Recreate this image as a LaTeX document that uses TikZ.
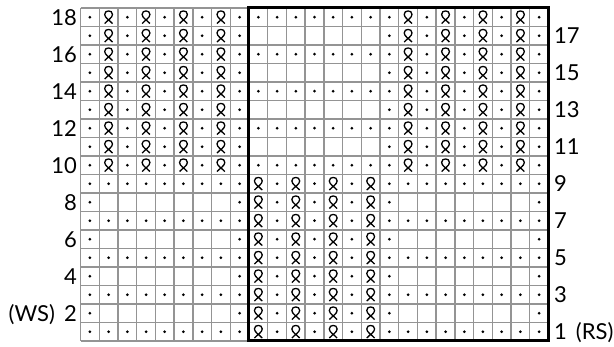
\documentclass[tikz,border=0pt]{standalone}
\usepackage{fontspec}
\setmainfont{Lato}[WordSpace=1.6]
\def\rowA{d,q,d,q,d,q,d,q,d,d,d,d,d,d,d,d,d,q,d,q,d,q,d,q,d}
\def\rowB{d,q,d,q,d,q,d,q,d,e,e,e,e,e,e,e,d,q,d,q,d,q,d,q,d}
\def\rowC{d,d,d,d,d,d,d,d,d,q,d,q,d,q,d,q,d,d,d,d,d,d,d,d,d}
\def\rowD{d,e,e,e,e,e,e,e,d,q,d,q,d,q,d,q,d,e,e,e,e,e,e,e,d}
\tikzset{
  pd/.pic={\fill (0,0) circle[radius=1.5pt];},
  pq/.pic={\draw[line width=1.3pt] (-3.9,6.3) .. controls (-1,3) and (3.9,0.5) .. (3.9,-2.8) .. controls (3.9,-5.3) and (2,-6.3) .. (0,-6.3) .. controls (-2,-6.3) and (-3.9,-5.3) .. (-3.9,-2.8) .. controls (-3.9,0.5) and (1,3) .. (3.9,6.3);},
  pe/.pic={},
  gridln/.style={line width=1.4pt, color=black!42},
  frameln/.style={line width=3pt, black},
  lbl/.style={inner sep=0pt, font=\fontsize{22}{26}\selectfont}
}
\begin{document}
\begin{tikzpicture}[x=1pt,y=-1pt]
\useasboundingbox (0,0) rectangle (614,347);
% grid
\foreach \c in {0,...,25} \draw[gridln] ({80.5+\c*18.72},8) -- ({80.5+\c*18.72},341);
\foreach \r in {0,...,18} \draw[gridln] (80.5,{8+\r*18.5}) -- (548.5,{8+\r*18.5});
% symbols
\foreach \r in {1,...,18}{
  \ifnum\r>9
    \ifodd\r \global\let\rowlist\rowB \else \global\let\rowlist\rowA \fi
  \else
    \ifodd\r \global\let\rowlist\rowC \else \global\let\rowlist\rowD \fi
  \fi
  \foreach \s [count=\c] in \rowlist {
    \pic at ({80.5+(\c-0.5)*18.72},{8+(18.5-\r)*18.5}) {p\s};
  }
}
% thick frame
\draw[frameln] (248.98,8) rectangle (548.5,341);
% labels
\foreach \r in {4,6,...,18}
  \node[lbl, anchor=base east] (l\r) at (77,{8+(18.5-\r)*18.5+7.9}) {\r};
\node[lbl, anchor=base east] (l2) at (77,{8+16.5*18.5+7.9}) {(WS) 2};
\foreach \r in {3,5,...,17}
  \node[lbl, anchor=base west] (l\r) at (554,{8+(18.5-\r)*18.5+7.9}) {\r};
\node[lbl, anchor=base west] (l1) at (554,{8+17.5*18.5+7.9}) {1 (RS)};
\end{tikzpicture}
\end{document}
